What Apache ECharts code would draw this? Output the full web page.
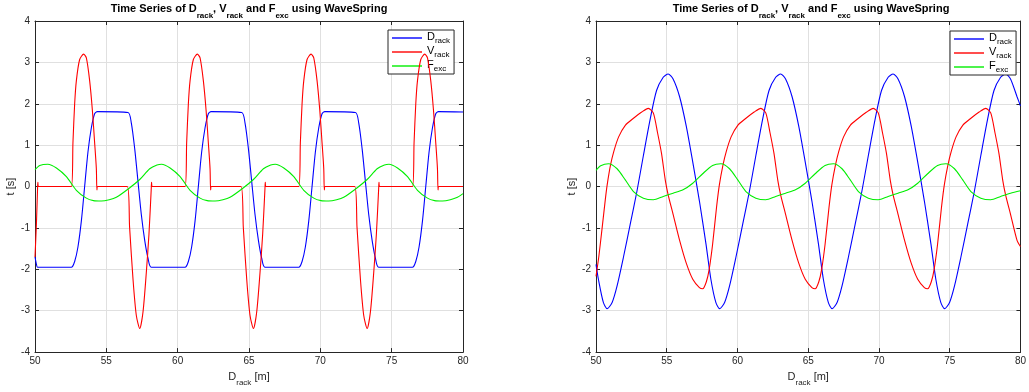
<!DOCTYPE html>
<html><head><meta charset="utf-8">
<script src="https://cdn.jsdelivr.net/npm/echarts@6/dist/echarts.min.js"></script>
<style>html,body{margin:0;padding:0;background:#fff}#c{width:1029px;height:392px}</style>
</head><body><div id="c"></div>
<script>
// ---- data ----
const xRange = [50, 80];
const yRange = [-4, 4];
const xTickStep = 5;
const yTickStep = 1;
const seriesNames = ['D_rack', 'V_rack', 'F_exc'];
const seriesColors = ['#0000ff', '#ff0000', '#00ee00'];
const titleText = 'Time Series of D_rack, V_rack and F_exc using WaveSpring';
const xName = 'D_rack [m]';
const yName = 't [s]';

// Left panel
const leftD = [
  [50.0,-1.70],[50.1,-1.88],[50.18,-1.95],
  [52.55,-1.95],[52.78,-1.81],[53.01,-1.46],[53.25,-0.83],[53.48,0],[53.71,0.83],[53.95,1.42],[54.18,1.76],[54.37,1.81],
  [56.52,1.79],[56.75,1.54],[56.99,0.91],[57.22,0.12],[57.45,-0.67],[57.69,-1.30],[57.92,-1.73],[58.15,-1.95],
  [60.52,-1.95],[60.75,-1.81],[60.98,-1.46],[61.22,-0.83],[61.45,0],[61.68,0.83],[61.92,1.42],[62.15,1.76],[62.34,1.81],
  [64.49,1.79],[64.72,1.54],[64.96,0.91],[65.19,0.12],[65.42,-0.67],[65.66,-1.30],[65.89,-1.73],[66.12,-1.95],
  [68.49,-1.95],[68.72,-1.81],[68.95,-1.46],[69.19,-0.83],[69.42,0],[69.65,0.83],[69.89,1.42],[70.12,1.76],[70.31,1.81],
  [72.46,1.79],[72.69,1.54],[72.93,0.91],[73.16,0.12],[73.39,-0.67],[73.63,-1.30],[73.86,-1.73],[74.09,-1.95],
  [76.46,-1.95],[76.69,-1.81],[76.92,-1.46],[77.16,-0.83],[77.39,0],[77.62,0.83],[77.86,1.42],[78.09,1.76],[78.28,1.81],
  [80.0,1.80]
];
const leftV = [
  [50.0,-1.70],[50.1,-0.90],[50.18,-0.04],[50.2,0.10],[50.25,0],
  [52.55,0],[52.66,1.06],[52.78,2.0],[52.9,2.56],[53.13,3.07],[53.41,3.2],[53.6,3.11],[53.83,2.56],[54.02,1.85],[54.18,1.06],[54.3,0.43],[54.34,-0.08],[54.4,0],
  [56.47,0],[56.63,-0.98],[56.87,-2.24],[57.1,-3.11],[57.34,-3.43],[57.57,-3.03],[57.8,-2.09],[57.99,-1.14],[58.15,-0.04],[58.17,0.10],[58.22,0],
  [60.52,0],[60.63,1.06],[60.75,2.0],[60.87,2.56],[61.1,3.07],[61.38,3.2],[61.57,3.11],[61.8,2.56],[61.99,1.85],[62.15,1.06],[62.27,0.43],[62.31,-0.08],[62.37,0],
  [64.44,0],[64.6,-0.98],[64.84,-2.24],[65.07,-3.11],[65.31,-3.43],[65.54,-3.03],[65.77,-2.09],[65.96,-1.14],[66.12,-0.04],[66.14,0.10],[66.19,0],
  [68.49,0],[68.6,1.06],[68.72,2.0],[68.84,2.56],[69.07,3.07],[69.35,3.2],[69.54,3.11],[69.77,2.56],[69.96,1.85],[70.12,1.06],[70.24,0.43],[70.28,-0.08],[70.34,0],
  [72.41,0],[72.57,-0.98],[72.81,-2.24],[73.04,-3.11],[73.28,-3.43],[73.51,-3.03],[73.74,-2.09],[73.93,-1.14],[74.09,-0.04],[74.11,0.10],[74.16,0],
  [76.46,0],[76.57,1.06],[76.69,2.0],[76.81,2.56],[77.04,3.07],[77.32,3.2],[77.51,3.11],[77.74,2.56],[77.93,1.85],[78.09,1.06],[78.21,0.43],[78.25,-0.08],[78.31,0],
  [80.0,0]
];
const leftF = [
  [50.0,0.41],[50.33,0.51],[50.9,0.54],[51.5,0.45],[52.2,0.24],[52.9,-0.09],[53.6,-0.28],[54.1,-0.34],[54.65,-0.35],[55.2,-0.32],[55.7,-0.26],[56.6,-0.04],[57.34,0.17],[58.04,0.43],[58.55,0.52],[58.87,0.54],
  [59.47,0.45],[60.17,0.24],[60.87,-0.09],[61.57,-0.28],[62.07,-0.34],[62.62,-0.35],[63.17,-0.32],[63.67,-0.26],[64.57,-0.04],[65.31,0.17],[66.01,0.43],[66.52,0.52],[66.84,0.54],
  [67.44,0.45],[68.14,0.24],[68.84,-0.09],[69.54,-0.28],[70.04,-0.34],[70.59,-0.35],[71.14,-0.32],[71.64,-0.26],[72.54,-0.04],[73.28,0.17],[73.98,0.43],[74.49,0.52],[74.81,0.54],
  [75.41,0.45],[76.11,0.24],[76.81,-0.09],[77.51,-0.28],[78.01,-0.34],[78.56,-0.35],[79.11,-0.32],[79.61,-0.26],[80.0,-0.17]
];

// Right panel
const rightD = [
  [50.0,-1.88],[50.17,-2.24],[50.52,-2.80],[50.79,-2.95],[51.14,-2.80],[51.49,-2.40],[51.95,-1.69],[52.42,-0.91],[52.89,-0.12],[53.35,0.75],[53.82,1.61],[54.28,2.32],[54.75,2.64],[55.1,2.72],[55.45,2.60],[55.91,2.17],[56.38,1.46],[56.84,0.59],[57.31,-0.35],[57.77,-1.38],[58.12,-2.24],[58.47,-2.80],[58.74,-2.95],
  [59.09,-2.80],[59.44,-2.40],[59.9,-1.69],[60.37,-0.91],[60.84,-0.12],[61.3,0.75],[61.77,1.61],[62.23,2.32],[62.7,2.64],[63.05,2.72],[63.4,2.60],[63.86,2.17],[64.33,1.46],[64.79,0.59],[65.26,-0.35],[65.72,-1.38],[66.07,-2.24],[66.42,-2.80],[66.69,-2.95],
  [67.04,-2.80],[67.39,-2.40],[67.85,-1.69],[68.32,-0.91],[68.79,-0.12],[69.25,0.75],[69.72,1.61],[70.18,2.32],[70.65,2.64],[71.0,2.72],[71.35,2.60],[71.81,2.17],[72.28,1.46],[72.74,0.59],[73.21,-0.35],[73.67,-1.38],[74.02,-2.24],[74.37,-2.80],[74.64,-2.95],
  [74.99,-2.80],[75.34,-2.40],[75.8,-1.69],[76.27,-0.91],[76.74,-0.12],[77.2,0.75],[77.67,1.61],[78.13,2.32],[78.6,2.64],[78.95,2.72],[79.3,2.60],[79.76,2.17],[80.0,1.95]
];
const rightV = [
  [50.0,-2.17],[50.2,-1.69],[50.44,-0.98],[50.67,-0.28],[50.79,0.04],[51.02,0.51],[51.26,0.85],[51.6,1.2],[52.07,1.48],[52.65,1.65],[53.23,1.8],[53.7,1.89],[54.05,1.78],[54.35,1.3],[54.63,0.8],[54.9,0.15],[55.1,-0.2],[55.45,-0.67],[55.91,-1.3],[56.38,-1.85],[56.84,-2.24],[57.31,-2.44],[57.54,-2.47],[57.8,-2.3],[58.0,-2.0],[58.24,-1.4],[58.52,-0.5],[58.72,0.04],
  [58.97,0.51],[59.21,0.85],[59.55,1.2],[60.02,1.48],[60.6,1.65],[61.18,1.8],[61.65,1.89],[62.0,1.78],[62.3,1.3],[62.58,0.8],[62.85,0.15],[63.05,-0.2],[63.4,-0.67],[63.86,-1.3],[64.33,-1.85],[64.79,-2.24],[65.26,-2.44],[65.49,-2.47],[65.75,-2.3],[65.95,-2.0],[66.19,-1.4],[66.47,-0.5],[66.67,0.04],
  [66.92,0.51],[67.16,0.85],[67.5,1.2],[67.97,1.48],[68.55,1.65],[69.13,1.8],[69.6,1.89],[69.95,1.78],[70.25,1.3],[70.53,0.8],[70.8,0.15],[71.0,-0.2],[71.35,-0.67],[71.81,-1.3],[72.28,-1.85],[72.74,-2.24],[73.21,-2.44],[73.44,-2.47],[73.7,-2.3],[73.9,-2.0],[74.14,-1.4],[74.42,-0.5],[74.62,0.04],
  [74.87,0.51],[75.11,0.85],[75.45,1.2],[75.92,1.48],[76.5,1.65],[77.08,1.8],[77.55,1.89],[77.9,1.78],[78.2,1.3],[78.48,0.8],[78.75,0.15],[78.95,-0.2],[79.3,-0.67],[79.76,-1.3],[80.0,-1.45]
];
const rightF = [
  [50.0,0.39],[50.33,0.5],[50.88,0.55],[51.49,0.43],[52.07,0.16],[52.65,-0.12],[53.35,-0.28],[54.05,-0.32],[54.75,-0.24],[55.45,-0.16],[56.15,-0.08],[56.84,0.08],[57.54,0.31],[58.24,0.51],[58.83,0.55],
  [59.44,0.43],[60.02,0.16],[60.6,-0.12],[61.3,-0.28],[62.0,-0.32],[62.7,-0.24],[63.4,-0.16],[64.1,-0.08],[64.79,0.08],[65.49,0.31],[66.19,0.51],[66.78,0.55],
  [67.39,0.43],[67.97,0.16],[68.55,-0.12],[69.25,-0.28],[69.95,-0.32],[70.65,-0.24],[71.35,-0.16],[72.05,-0.08],[72.74,0.08],[73.44,0.31],[74.14,0.51],[74.73,0.55],
  [75.34,0.43],[75.92,0.16],[76.5,-0.12],[77.2,-0.28],[77.9,-0.32],[78.6,-0.24],[79.3,-0.16],[80.0,-0.1]
];

// ---- chart ----
const FONT = '"Liberation Sans", Arial, Helvetica, sans-serif';
const AX = '#262626';
function richSub(s) {
  return s.replace(/([A-Za-z])_([a-z]+)/g, '{m|$1}{s|$2}').replace(/(^|\})([^{}]+)(?=\{|$)/g, (a, p, t) => p + '{m|' + t + '}');
}
const chart = echarts.init(document.getElementById('c'), null, {renderer: 'canvas'});
const grids = [
  {left: 35, right: 566, top: 21, bottom: 33},
  {left: 596, right: 3, top: 21, bottom: 33}
];
const titleCenters = [249, 811];
const legendPos = [{left: 388, top: 30}, {left: 950, top: 31}];
const data = [[leftD, leftV, leftF], [rightD, rightV, rightF]];

const xAxes = [], yAxes = [], series = [], titles = [], legends = [];
const titleRich = {
  m: {fontSize: 11, fontWeight: 'bold', fontFamily: FONT, color: '#000', verticalAlign: 'top', lineHeight: 17},
  s: {fontSize: 8, fontWeight: 'bold', fontFamily: FONT, color: '#000', verticalAlign: 'bottom', lineHeight: 17}
};
const labRich = {
  m: {fontSize: 11, fontFamily: FONT, color: AX, verticalAlign: 'top', lineHeight: 16},
  s: {fontSize: 8, fontFamily: FONT, color: AX, verticalAlign: 'bottom', lineHeight: 16}
};
grids.forEach((g, i) => {
  const base = {min: xRange[0], max: xRange[1], interval: xTickStep, gridIndex: i, type: 'value'};
  xAxes.push(Object.assign({}, base, {
    position: 'bottom',
    name: richSub(xName), nameLocation: 'middle', nameGap: 11,
    nameTextStyle: {rich: labRich},
    axisLine: {show: true, onZero: false, lineStyle: {color: AX, width: 1}},
    axisTick: {show: true, inside: true, length: 4, lineStyle: {color: AX}},
    axisLabel: {show: true, margin: 4, fontSize: 10, fontFamily: FONT, color: AX},
    splitLine: {show: true, lineStyle: {color: '#e0e0e0', width: 1}}
  }));
  xAxes.push(Object.assign({}, base, {
    position: 'top',
    axisLine: {show: true, onZero: false, lineStyle: {color: AX, width: 1}},
    axisTick: {show: true, inside: true, length: 4, lineStyle: {color: AX}},
    axisLabel: {show: false}, splitLine: {show: false}
  }));
  const ybase = {min: yRange[0], max: yRange[1], interval: yTickStep, gridIndex: i, type: 'value'};
  yAxes.push(Object.assign({}, ybase, {
    position: 'left',
    name: yName, nameLocation: 'middle', nameGap: 19,
    nameTextStyle: {fontSize: 11, fontFamily: FONT, color: AX},
    axisLine: {show: true, onZero: false, lineStyle: {color: AX, width: 1}},
    axisTick: {show: true, inside: true, length: 4, lineStyle: {color: AX}},
    axisLabel: {show: true, margin: 5, fontSize: 10, fontFamily: FONT, color: AX},
    splitLine: {show: true, lineStyle: {color: '#e0e0e0', width: 1}}
  }));
  yAxes.push(Object.assign({}, ybase, {
    position: 'right',
    axisLine: {show: true, onZero: false, lineStyle: {color: AX, width: 1}},
    axisTick: {show: true, inside: true, length: 4, lineStyle: {color: AX}},
    axisLabel: {show: false}, splitLine: {show: false}
  }));
  titles.push({
    text: richSub(titleText), left: titleCenters[i], top: 3, textAlign: 'center', padding: 0,
    textStyle: {rich: titleRich}
  });
  legends.push({
    data: seriesNames, orient: 'vertical', left: legendPos[i].left, top: legendPos[i].top,
    backgroundColor: '#fff', borderColor: AX, borderWidth: 1, borderRadius: 0,
    padding: [1, 4, 1, 4], itemGap: 0, itemWidth: 30, itemHeight: 1.4, icon: 'rect',
    formatter: n => richSub(n),
    textStyle: {rich: {
      m: {fontSize: 11, fontFamily: FONT, color: '#000', verticalAlign: 'top', lineHeight: 14, padding: [0, 0, 0, 0]},
      s: {fontSize: 8, fontFamily: FONT, color: '#000', verticalAlign: 'bottom', lineHeight: 14}
    }},
    selectedMode: false
  });
  data[i].forEach((d, k) => {
    series.push({
      name: seriesNames[k], type: 'line', xAxisIndex: 2 * i, yAxisIndex: 2 * i,
      data: d, showSymbol: false, symbol: 'none', smooth: 0.25, animation: false,
      lineStyle: {color: seriesColors[k], width: 1.1}, itemStyle: {color: seriesColors[k]},
      z: 3 + k
    });
  });
});
chart.setOption({
  animation: false,
  backgroundColor: '#fff',
  title: titles, legend: legends, grid: grids,
  xAxis: xAxes, yAxis: yAxes, series: series
});
</script></body></html>
